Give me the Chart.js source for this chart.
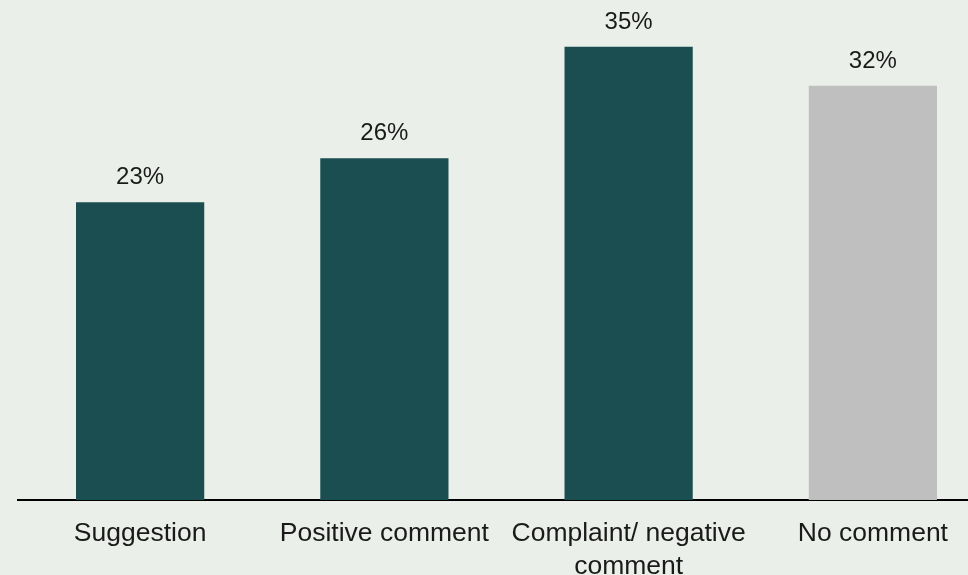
<!DOCTYPE html>
<html>
<head>
<meta charset="utf-8">
<script src="https://cdn.jsdelivr.net/npm/chart.js@4/dist/chart.umd.min.js"></script>
<style>
  html, body { margin: 0; padding: 0; overflow: hidden; background: #ebefea; }
  #wrap { width: 1000px; height: 575px; }
</style>
</head>
<body>
<div id="wrap"><canvas id="chart" width="1000" height="575"></canvas></div>
<script>
const categories = ['Suggestion', 'Positive comment', ['Complaint/ negative', 'comment'], 'No comment'];
const shares = [23, 26.4, 35, 32];
const barColors = ['#1b4e51', '#1b4e51', '#1b4e51', '#bfbfbf'];

// value labels above each bar
const valueLabels = {
  id: 'valueLabels',
  afterDatasetsDraw(chart) {
    const ctx = chart.ctx;
    const meta = chart.getDatasetMeta(0);
    ctx.save();
    ctx.font = '24px "Liberation Sans", Arial, sans-serif';
    ctx.fillStyle = '#1a1a1a';
    ctx.textAlign = 'center';
    ctx.textBaseline = 'alphabetic';
    meta.data.forEach((bar, i) => {
      ctx.fillText(Math.round(shares[i]) + '%', bar.x, bar.y - 18);
    });
    ctx.restore();
  }
};

const ctx = document.getElementById('chart').getContext('2d');
new Chart(ctx, {
  type: 'bar',
  data: {
    labels: categories,
    datasets: [{
      data: shares,
      backgroundColor: barColors,
      barPercentage: 0.525,
      categoryPercentage: 1
    }]
  },
  options: {
    responsive: false,
    animation: false,
    layout: { padding: { left: 18, right: 5, top: 8, bottom: 0 } },
    plugins: { legend: { display: false }, tooltip: { enabled: false } },
    scales: {
      x: {
        grid: { display: false, drawTicks: false },
        border: { display: true, color: '#000', width: 2 },
        ticks: {
          color: '#1a1a1a',
          padding: 17,
          maxRotation: 0,
          autoSkip: false,
          font: { family: '"Liberation Sans", Arial, sans-serif', size: 26.5, lineHeight: 1.25 }
        },
        afterFit(scale) { scale.height = 75; }
      },
      y: {
        display: false,
        min: 0,
        max: 38
      }
    }
  },
  plugins: [valueLabels]
});
</script>
</body>
</html>
